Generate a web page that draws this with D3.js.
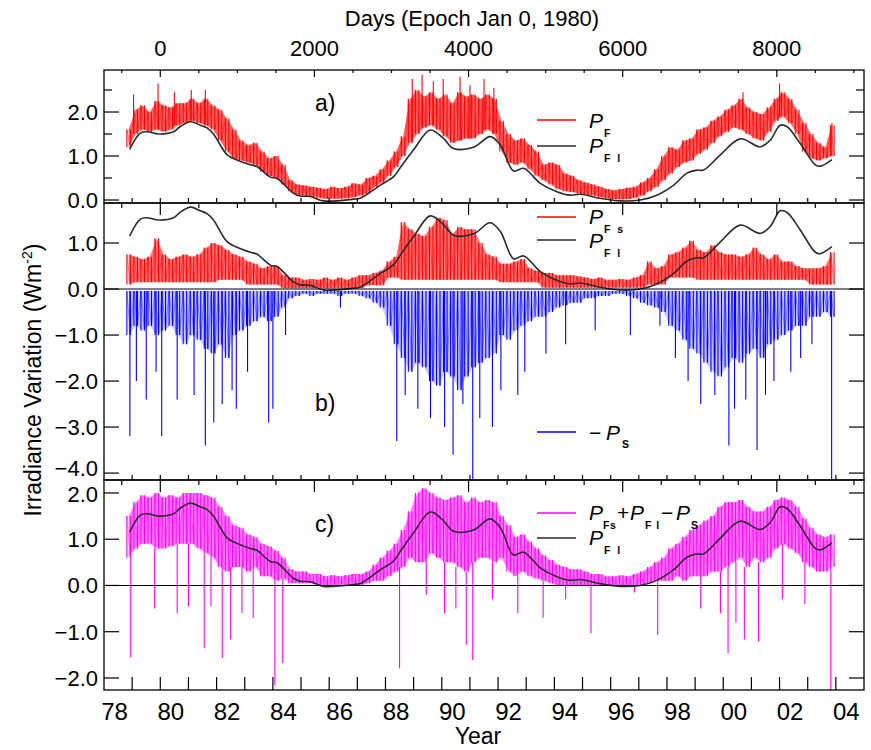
<!DOCTYPE html>
<html><head><meta charset="utf-8">
<script src="https://cdn.jsdelivr.net/npm/d3@7"></script>
<style>
body{margin:0;background:#fff}
svg{display:block}
text{font-family:"Liberation Sans",Arial,Helvetica,sans-serif;fill:#000}
</style>
</head><body>
<svg id="chart" width="871" height="750"></svg>
<script>
// ---------------- DATA ----------------
// Bins of a quarter year, first bin centred on 1978.875
const binStart = 1978.875;
const binStep = 0.25;

// a) P_F : typical upper and lower extent of the daily trace in each bin
const pfHi = [1.6,2.05,2.15,2.0,2.25,2.15,2.1,2.2,2.2,2.3, 2.2,2.3,2.15,2.05,1.85,1.6,1.35,1.25,1.3,1.1,
  0.95,1.0,0.8,0.45,0.35,0.33,0.3,0.28,0.25,0.3, 0.27,0.3,0.38,0.35,0.5,0.55,0.7,0.9,1.1,1.45,
  2.3,2.5,2.35,2.45,2.3,2.4,2.2,2.45,2.35,2.4, 2.3,2.4,2.3,1.8,1.5,1.35,1.4,1.25,1.1,0.8,
  0.85,0.8,0.6,0.55,0.45,0.4,0.35,0.3,0.25,0.22, 0.25,0.28,0.3,0.4,0.5,0.7,1.0,1.2,1.15,1.35,
  1.4,1.6,1.65,1.8,1.9,2.05,2.15,2.3,2.1,2.0, 1.95,2.1,2.3,2.45,2.3,2.05,1.75,1.5,1.3,1.2, 1.7];
const pfLo = [1.2,1.5,1.6,1.55,1.6,1.55,1.6,1.7,1.75,1.8, 1.75,1.7,1.6,1.35,1.1,0.95,0.9,0.85,0.8,0.65,
  0.55,0.5,0.35,0.2,0.12,0.1,0.08,0.05,0.03,0.03, 0.03,0.04,0.06,0.1,0.15,0.3,0.4,0.55,0.75,1.0,
  1.3,1.5,1.65,1.7,1.6,1.45,1.3,1.35,1.4,1.4, 1.5,1.6,1.5,1.1,0.85,0.8,0.85,0.7,0.55,0.45,
  0.35,0.25,0.2,0.18,0.15,0.12,0.1,0.07,0.04,0.02, 0.02,0.02,0.05,0.1,0.2,0.3,0.45,0.6,0.75,0.85,
  0.9,1.05,1.15,1.3,1.45,1.55,1.65,1.6,1.5,1.4, 1.35,1.55,1.8,1.9,1.75,1.5,1.1,0.95,0.9,0.95, 1.0];
// a) P_F : tallest individual peaks
const pfSpikeYears = [1979.05,1979.92,1980.5,1981.1,1981.6,1988.95,1989.3,1989.7,1990.05,1990.65,1991.0,1991.5,1991.85,2000.7,2002.0,2003.86];
const pfSpikeVals = [2.4,2.65,2.45,2.5,2.5,2.75,2.85,2.7,2.75,2.8,2.6,2.75,2.55,2.45,2.65,1.75];

// P_Fl : smooth curve (year, value)
const pflYears = [1978.91,1979.29,1979.53,1979.94,1980.47,1980.71,1981.07,1981.42,1981.66,1981.89,
  1982.37,1982.72,1983.2,1983.43,1983.91,1984.15,1984.74,1984.97,1985.33,1985.8,1986.87,1987.1,
  1987.82,1988.29,1988.53,1989.0,1989.59,1990.06,1990.42,1991.13,1991.72,1992.08,1992.55,1992.91,
  1993.5,1994.09,1994.56,1994.92,1995.63,1996.34,1997.05,1997.64,1998.24,1998.71,1999.06,1999.3,
  1999.89,2000.6,2001.31,2001.67,2002.02,2002.26,2002.73,2003.27,2003.45,2003.86];
const pflVals = [1.15,1.52,1.55,1.50,1.55,1.67,1.78,1.70,1.64,1.50,
  1.03,0.91,0.80,0.76,0.52,0.49,0.15,0.09,0.08,-0.02,0.02,0.04,
  0.34,0.53,0.74,1.14,1.59,1.40,1.17,1.20,1.44,1.25,0.66,0.72,
  0.38,0.19,0.11,0.13,0.04,-0.02,0.0,0.11,0.34,0.61,0.68,0.68,
  1.02,1.39,1.21,1.36,1.70,1.67,1.29,0.80,0.77,0.92];

// b) P_Fs : upper and lower extent per bin
const pfsHi = [0.75,0.7,0.65,0.7,1.1,0.75,0.65,0.7,0.75,0.7, 0.75,0.9,1.0,0.95,0.85,0.75,0.7,0.6,0.55,0.45,
  0.5,0.5,0.3,0.25,0.25,0.2,0.22,0.2,0.25,0.2, 0.25,0.2,0.25,0.3,0.3,0.35,0.4,0.6,0.7,1.45,
  1.3,1.2,1.15,1.35,1.55,1.5,1.2,1.35,1.3,1.3, 1.0,0.75,0.7,0.55,0.55,0.6,0.65,0.45,0.4,0.35,
  0.35,0.3,0.3,0.3,0.28,0.25,0.22,0.25,0.2,0.2, 0.22,0.2,0.25,0.3,0.6,0.45,0.5,0.75,0.8,0.9,
  1.05,0.85,0.8,0.95,0.8,0.75,0.75,0.7,0.75,0.9, 0.75,0.65,0.75,0.6,0.6,0.5,0.45,0.45,0.45,0.5, 0.8];
const pfsLo = [0.1,0.15,0.15,0.15,0.15,0.15,0.15,0.15,0.15,0.15, 0.15,0.15,0.15,0.2,0.2,0.2,0.2,0.1,0.1,0.1,
  0.1,0.1,0.02,0.02,0.02,0.02,0.02,0.02,0.02,0.02, 0.02,0.02,0.02,0.02,0.08,0.08,0.08,0.25,0.25,0.2,
  0.2,0.2,0.2,0.2,0.2,0.2,0.2,0.2,0.2,0.2, 0.2,0.2,0.2,0.15,0.15,0.15,0.15,0.15,0.15,0.03,
  0.03,0.03,0.03,0.03,0.03,0.03,0.03,0.03,0.03,0.03, 0.03,0.03,0.03,0.03,0.1,0.1,0.1,0.25,0.25,0.25,
  0.25,0.2,0.2,0.2,0.2,0.2,0.2,0.2,0.2,0.2, 0.2,0.2,0.2,0.2,0.2,0.2,0.2,0.1,0.1,0.1, 0.1];

// b) -P_s : depth of the dense part per bin, plus individual deep spikes
const psTop = -0.04;
const psDense = [-1.0,-0.8,-0.9,-0.8,-1.0,-0.9,-0.8,-1.0,-1.2,-1.0, -1.1,-1.3,-1.4,-1.2,-1.5,-1.0,-0.9,-0.8,-0.7,-0.6,
  -0.7,-0.6,-0.4,-0.2,-0.15,-0.1,-0.15,-0.1,-0.1,-0.1, -0.15,-0.1,-0.1,-0.15,-0.2,-0.3,-0.4,-0.8,-1.2,-1.5,
  -1.8,-1.6,-1.7,-2.0,-2.1,-1.8,-1.9,-2.2,-1.9,-1.7, -1.6,-1.5,-1.4,-1.0,-1.1,-0.9,-0.8,-0.7,-0.6,-0.6,
  -0.5,-0.4,-0.35,-0.3,-0.3,-0.2,-0.2,-0.15,-0.15,-0.1, -0.1,-0.15,-0.2,-0.3,-0.35,-0.4,-0.5,-0.8,-0.9,-1.1,
  -1.3,-1.4,-1.6,-1.8,-1.9,-1.7,-1.5,-1.6,-1.4,-1.3, -1.5,-1.2,-1.1,-1.0,-0.9,-0.8,-0.8,-0.6,-0.6,-0.5, -0.6];
const psSpikeYears = [1978.92,1979.15,1979.5,1979.85,1980.05,1980.6,1981.2,1981.6,1981.9,1982.2,
  1982.55,1982.7,1983.1,1983.85,1984.0,1984.45,1986.4,1988.4,1988.7,1989.15,
  1989.6,1990.1,1990.4,1990.75,1991.1,1991.35,1991.8,1992.1,1992.7,1992.95,
  1993.7,1994.4,1995.45,1996.7,1997.75,1998.3,1998.75,1999.2,1999.7,2000.2,
  2000.4,2000.8,2001.2,2001.5,2001.8,2002.4,2002.75,2003.15,2003.85];
const psSpikeVals = [-3.2,-2.0,-2.4,-1.8,-3.2,-2.4,-2.3,-3.4,-2.9,-2.5,
  -2.2,-2.6,-1.8,-2.9,-2.6,-1.0,-0.4,-3.3,-2.3,-2.6,
  -2.8,-3.0,-3.6,-2.5,-4.3,-2.8,-3.0,-2.2,-2.3,-1.8,
  -1.4,-1.2,-0.9,-1.0,-0.8,-1.5,-2.0,-2.5,-2.3,-3.4,
  -2.6,-2.4,-3.5,-2.3,-2.0,-1.8,-1.5,-1.2,-4.3];

// c) P_Fs + P_Fl - P_s : extent per bin plus spikes
const cHi = [1.5,1.8,1.95,1.9,2.0,1.9,1.95,1.9,2.0,2.0, 2.0,1.95,1.9,1.7,1.5,1.3,1.25,1.1,1.05,0.9,
  0.85,0.75,0.6,0.35,0.3,0.3,0.25,0.25,0.2,0.22, 0.2,0.22,0.25,0.25,0.3,0.45,0.6,0.75,0.9,1.2,
  1.6,2.0,2.1,2.0,1.9,1.85,1.9,1.95,1.8,1.9, 1.8,1.85,1.8,1.5,1.3,1.05,1.1,0.95,0.8,0.65,
  0.55,0.45,0.4,0.35,0.35,0.3,0.25,0.25,0.2,0.2, 0.22,0.2,0.25,0.3,0.4,0.5,0.6,0.8,0.9,1.05,
  1.2,1.3,1.4,1.5,1.7,1.8,1.8,1.85,1.7,1.6, 1.6,1.7,1.85,1.9,1.85,1.7,1.45,1.25,1.1,1.05, 1.1];
const cLo = [0.6,0.8,0.9,0.9,0.8,0.8,0.85,0.9,0.9,0.9, 0.8,0.7,0.6,0.4,0.3,0.4,0.4,0.3,0.4,0.2,
  0.2,0.1,0.15,0.05,0.05,0.05,0.05,0.0,0.0,0.0, 0.0,0.0,0.0,0.0,0.05,0.1,0.1,0.2,0.3,0.4,
  0.6,0.5,0.5,0.7,0.6,0.5,0.5,0.4,0.3,0.5, 0.6,0.6,0.5,0.6,0.3,0.2,0.3,0.2,0.15,0.1,
  0.05,0.0,0.0,0.0,0.0,0.0,0.0,0.0,0.0,0.0, 0.0,0.0,0.0,0.0,0.05,0.1,0.1,0.1,0.2,0.1,
  0.2,0.2,0.2,0.3,0.3,0.4,0.5,0.6,0.4,0.6, 0.5,0.6,0.8,0.9,0.8,0.7,0.5,0.4,0.3,0.3, 0.4];
const cSpikeYears = [1978.95,1979.8,1980.6,1981.0,1981.56,1981.8,1982.2,1982.5,1982.9,1983.3,
  1984.07,1984.35,1988.5,1989.45,1990.1,1990.5,1990.87,1991.1,1991.8,1992.7,
  1993.6,1994.4,1995.3,1996.85,1997.67,1999.2,1999.9,2000.17,2000.45,2000.75,
  2001.25,2002.1,2002.9,2003.82];
const cSpikeVals = [-1.55,-0.5,-0.6,-0.45,-1.35,-0.45,-1.57,-1.17,-0.6,-0.7,
  -2.15,-1.68,-1.79,-0.2,-0.6,-0.5,-1.28,-1.61,-0.3,-0.6,
  -0.7,-0.3,-1.03,-0.15,-1.07,-0.5,-0.6,-1.46,-0.8,-1.17,
  -1.21,-0.3,-0.4,-2.3];

// Axis labels
const yearLabels = [1978,1980,1982,1984,1986,1988,1990,1992,1994,1996,1998,2000,2002,2004];
const dayLabels = [0,2000,4000,6000,8000];
const aTicks = [0,1,2], aMinor = [0.5,1.5,2.5];
const bTicks = [1,0,-1,-2,-3,-4];
const cTicks = [2,1,0,-1,-2];

// ---------------- DRAWING ----------------
const svg = d3.select('#chart');
const L = 104, R = 864;
const X = d3.scaleLinear().domain([1978, 2005]).range([L, R]);
const XD = d3.scaleLinear().domain([(1978-1980)*365.25, (2005-1980)*365.25]).range([L, R]);

const panels = [
  {id:'a', top:70, bottom:203, dom:[-0.068, 2.955], major:aTicks, minor:aMinor, yrT:5, dMaj:7, dMin:3},
  {id:'b', top:203, bottom:480, dom:[-4.15, 1.87], major:bTicks, minor:[], yrT:5, dMaj:12, dMin:5},
  {id:'c', top:480, bottom:690, dom:[-2.26, 2.28], major:cTicks, minor:[], yrT:13, dMaj:12, dMin:5}
];
panels.forEach(p => {
  p.y = d3.scaleLinear().domain(p.dom).range([p.bottom, p.top]);
  svg.append('clipPath').attr('id','clip'+p.id).append('rect')
    .attr('x',L).attr('y',p.top).attr('width',R-L).attr('height',p.bottom-p.top);
  p.g = svg.append('g').attr('clip-path','url(#clip'+p.id+')');
});
const [PA, PB, PC] = panels;

const binYear = i => binStart + i*binStep;

// dense daily trace: filled extent + comb of vertical strokes + ragged outline
function band(p, hi, lo, color, fillOp) {
  const idx = d3.range(hi.length);
  const area = d3.area().x(i => X(binYear(i))).y0(i => p.y(lo[i])).y1(i => p.y(hi[i]));
  p.g.append('path').attr('d', area(idx)).attr('fill', color).attr('fill-opacity', fillOp).attr('stroke','none');
  const segs = [];
  idx.forEach(i => {
    segs.push({x: binYear(i) - binStep/4, a: lo[i], b: hi[i]});
    segs.push({x: binYear(i) + binStep/4, a: lo[i], b: hi[i]});
  });
  p.g.append('g').attr('stroke', color).attr('stroke-width', 1.1)
    .selectAll('line').data(segs).enter().append('line')
    .attr('x1', d => X(d.x)).attr('x2', d => X(d.x))
    .attr('y1', d => p.y(d.a)).attr('y2', d => p.y(d.b));
  const pts = [];
  idx.forEach(i => { pts.push([binYear(i) - binStep/4, hi[i]]); pts.push([binYear(i) + binStep/4, lo[i]]); });
  const line = d3.line().x(d => X(d[0])).y(d => p.y(d[1]));
  p.g.append('path').attr('d', line(pts)).attr('fill','none').attr('stroke', color).attr('stroke-opacity',0.5).attr('stroke-width', 0.8);
}
function spikes(p, years, vals, baseFn, color) {
  p.g.append('g').selectAll('line').data(years).enter().append('line')
    .attr('x1', d => X(d)).attr('x2', d => X(d))
    .attr('y1', d => p.y(baseFn(d))).attr('y2', (d,i) => p.y(vals[i]))
    .attr('stroke', color).attr('stroke-width', 1.1);
}
function smooth(p) {
  const ln = d3.line().x((d,i) => X(pflYears[i])).y(d => p.y(d)).curve(d3.curveCatmullRom.alpha(0.5));
  p.g.append('path').attr('d', ln(pflVals)).attr('fill','none').attr('stroke','#2a2a2a').attr('stroke-width',1.6);
}
function zero(p) {
  svg.append('line').attr('x1',L).attr('x2',R).attr('y1',p.y(0)).attr('y2',p.y(0))
    .attr('stroke','#000').attr('stroke-width',1.1);
}
const nearestBin = yr => Math.max(0, Math.min(cLo.length-1, Math.round((yr - binStart)/binStep)));

// Panel a
band(PA, pfHi, pfLo, '#ff0000', 0.6);
spikes(PA, pfSpikeYears, pfSpikeVals, yr => pfLo[nearestBin(yr)], '#ff0000');
smooth(PA);
// Panel b
band(PB, pfsHi, pfsLo, '#ff0000', 0.55);
smooth(PB);
band(PB, psDense.map(() => psTop), psDense, '#0000ff', 0.22);
spikes(PB, psSpikeYears, psSpikeVals, () => psTop, '#0000ff');
zero(PB);
// Panel c
band(PC, cHi, cLo, '#ff00ff', 0.5);
spikes(PC, cSpikeYears, cSpikeVals, yr => cLo[nearestBin(yr)], '#ff00ff');
smooth(PC);
zero(PC);

// Frames and ticks
panels.forEach(p => {
  svg.append('rect').attr('x',L).attr('y',p.top).attr('width',R-L).attr('height',p.bottom-p.top)
    .attr('fill','none').attr('stroke','#000').attr('stroke-width',1.3);
  const tg = svg.append('g').attr('stroke','#000').attr('stroke-width',1.2);
  p.major.forEach(v => {
    tg.append('line').attr('x1',L).attr('x2',L+15).attr('y1',p.y(v)).attr('y2',p.y(v));
    tg.append('line').attr('x1',R).attr('x2',R-15).attr('y1',p.y(v)).attr('y2',p.y(v));
  });
  p.minor.forEach(v => {
    tg.append('line').attr('x1',L).attr('x2',L+8).attr('y1',p.y(v)).attr('y2',p.y(v));
    tg.append('line').attr('x1',R).attr('x2',R-8).attr('y1',p.y(v)).attr('y2',p.y(v));
  });
  d3.range(1979, 2005).forEach(yr => {
    tg.append('line').attr('x1',X(yr)).attr('x2',X(yr)).attr('y1',p.bottom).attr('y2',p.bottom - p.yrT);
  });
  d3.range(-500, 9001, 500).forEach(d => {
    const len = (d % 2000 === 0) ? p.dMaj : p.dMin;
    tg.append('line').attr('x1',XD(d)).attr('x2',XD(d)).attr('y1',p.top).attr('y2',p.top + len);
  });
  const fmt = d3.format('.1f');
  p.major.forEach(v => {
    const nudge = (p.id === 'b' && v === -4) ? -5 : (p.id === 'c' && v === 2) ? 1 : 0;
    svg.append('text').attr('x',98).attr('y',p.y(v) + nudge).attr('dy','0.36em').attr('text-anchor','end')
      .attr('font-size',22).text(fmt(v));
  });
});

// Bottom year labels
yearLabels.forEach(yr => {
  svg.append('text').attr('x', X(yr) + 10.5).attr('y', 720).attr('text-anchor','middle')
    .attr('font-size',24).text(String(yr).slice(2));
});
svg.append('text').attr('x',478).attr('y',744).attr('text-anchor','middle').attr('font-size',23).text('Year');

// Top day labels
dayLabels.forEach(d => {
  svg.append('text').attr('x', XD(d)).attr('y', 56).attr('text-anchor','middle').attr('font-size',22).text(d);
});
svg.append('text').attr('x',472).attr('y',26).attr('text-anchor','middle').attr('font-size',22)
  .text('Days (Epoch Jan 0, 1980)');

// Y axis title
const yt = svg.append('text').attr('transform','translate(41,380) rotate(-90)').attr('text-anchor','middle')
  .attr('font-size',23);
yt.append('tspan').text('Irradiance Variation (Wm');
yt.append('tspan').attr('font-size',14).attr('dy',-9).text('-2');
yt.append('tspan').attr('dy',9).text(')');

// Panel labels
svg.append('text').attr('x',315).attr('y',111).attr('font-size',23).text('a)');
svg.append('text').attr('x',315).attr('y',411).attr('font-size',23).text('b)');
svg.append('text').attr('x',315).attr('y',532).attr('font-size',23).text('c)');

// Legends
function legLine(y, color) {
  svg.append('line').attr('x1',537).attr('x2',576).attr('y1',y).attr('y2',y).attr('stroke',color).attr('stroke-width',1.4);
}
function bigP(x, y) {
  svg.append('text').attr('x',x).attr('y',y).attr('font-size',21).attr('font-style','italic').text('P');
}
function sub(x, y, t, ls) {
  svg.append('text').attr('x',x).attr('y',y).attr('font-size',10.5).attr('font-weight','bold')
    .attr('letter-spacing', ls === undefined ? 2 : ls).text(t);
}
function sym(x, y, t) {
  svg.append('text').attr('x',x).attr('y',y).attr('font-size',21).text(t);
}
legLine(120, '#ff0000'); bigP(589, 128); sub(604, 137, 'F');
legLine(146, '#2a2a2a'); bigP(589, 153); sub(604, 162, 'F l');
legLine(217, '#ff0000'); bigP(589, 224); sub(604, 233, 'F s');
legLine(240, '#2a2a2a'); bigP(589, 248); sub(604, 257, 'F l');
legLine(432, '#0000ff'); sym(589, 440, '\u2212'); bigP(606, 440); sub(622, 448, 'S');
legLine(513, '#ff00ff'); bigP(589, 520); sub(603, 529, 'Fs', 0.5);
sym(617, 520, '+'); bigP(630, 520); sub(645, 529, 'F l', 1);
sym(661, 520, '\u2212'); bigP(676, 520); sub(691, 529, 'S', 0);
legLine(538, '#2a2a2a'); bigP(589, 545); sub(604, 554, 'F l');
</script>
</body></html>
